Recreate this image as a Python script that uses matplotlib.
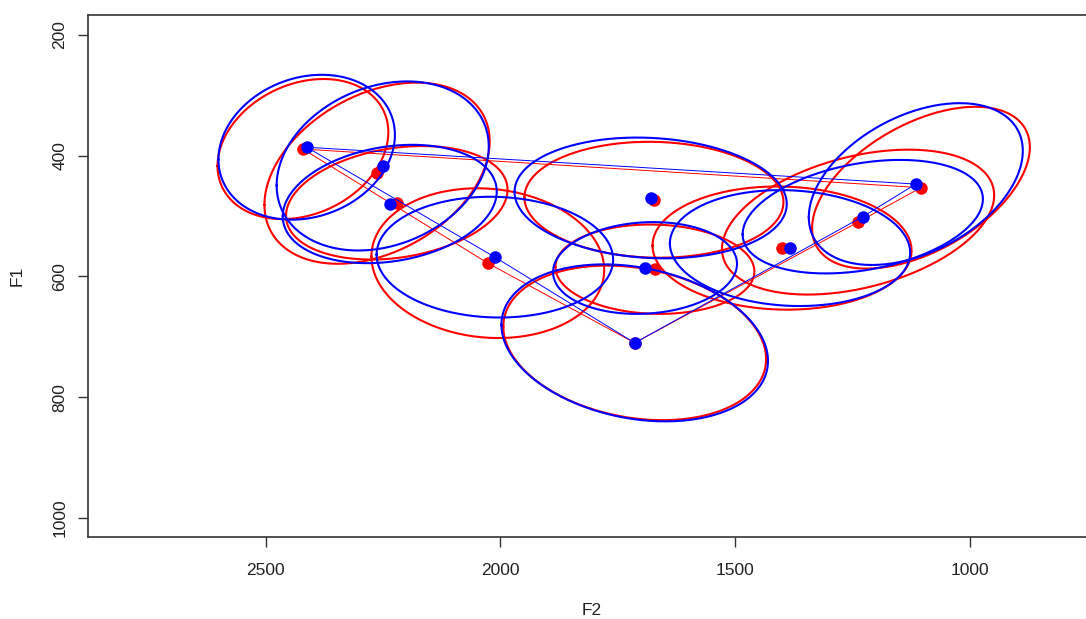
import numpy as np
import matplotlib
matplotlib.use("Agg")
import matplotlib.pyplot as plt

plt.rcParams["font.family"] = ["Liberation Sans", "DejaVu Sans"]

# vowel means, F2 / F1 (Hz)
f2_red = [2421, 2263, 2221, 2027, 1673, 1671, 1714, 1400, 1238, 1104]
f1_red = [389, 429, 478, 578, 473, 588, 710, 553, 510, 453]
f2_blue = [2413, 2251, 2236, 2012, 1680, 1692, 1714, 1383, 1228, 1115]
f1_blue = [386, 417, 480, 568, 470, 586, 710, 553, 501, 447]

# spread of each vowel: sd of F2, sd of F1, correlation F1~F2
sd2_red = [91, 120, 118, 124, 138, 106, 140, 138, 145, 116]
sd1_red = [58, 75, 47, 62, 48, 37, 64, 51, 60, 67]
r_red = [0.24, 0.35, 0.23, -0.09, -0.04, -0.05, -0.21, -0.04, 0.37, 0.50]
sd2_blue = [94, 113, 114, 126, 145, 98, 142, 128, 128, 114]
sd1_blue = [60, 70, 49, 50, 50, 38, 65, 48, 47, 67]
r_blue = [0.17, 0.23, 0.21, -0.04, -0.10, 0.09, -0.23, -0.08, 0.31, 0.41]

# corner vowels joined by the polygon
corners = [0, 3, 6, 8, 9, 0]

k = 2.0  # ellipse radius in sd


def draw_set(ax, f2, f1, sd2, sd1, r, col):
    t = np.linspace(0, 2 * np.pi, 300)
    for m2, m1, s2, s1, rr in zip(f2, f1, sd2, sd1, r):
        x = m2 + k * s2 * np.cos(t)
        y = m1 + k * s1 * (rr * np.cos(t) + np.sqrt(1 - rr ** 2) * np.sin(t))
        ax.plot(x, y, color=col, lw=1.5)
    ax.plot([f2[i] for i in corners], [f1[i] for i in corners], color=col, lw=0.7)
    ax.plot(f2, f1, "o", color=col, markersize=9, markeredgewidth=0)


fig = plt.figure(figsize=(10.86, 6.19), dpi=100)
ax = fig.add_axes([88 / 1086, 82 / 619, 1008 / 1086, 522 / 619])

draw_set(ax, f2_red, f1_red, sd2_red, sd1_red, r_red, "#ff0000")
draw_set(ax, f2_blue, f1_blue, sd2_blue, sd1_blue, r_blue, "#0000ff")

ax.set_xlim(2879, 731)
ax.set_ylim(1031.5, 167)
ax.set_xticks([2500, 2000, 1500, 1000])
ax.set_yticks([200, 400, 600, 800, 1000])
ax.set_yticklabels(["200", "400", "600", "800", "1000"], rotation=90, va="center")
ax.tick_params(length=7, width=1, color="#333333", labelcolor="#222222", labelsize=12.5)
ax.tick_params(axis="x", pad=12)
ax.tick_params(axis="y", pad=8)
for s in ["left", "top", "bottom"]:
    ax.spines[s].set_color("#333333")
    ax.spines[s].set_linewidth(1.2)
ax.spines["right"].set_visible(False)

ax.set_xlabel("F2", fontsize=12.5, color="#222222", labelpad=18)
ax.set_ylabel("F1", fontsize=12.5, color="#222222", labelpad=20)

fig.savefig("out.png", dpi=100)
